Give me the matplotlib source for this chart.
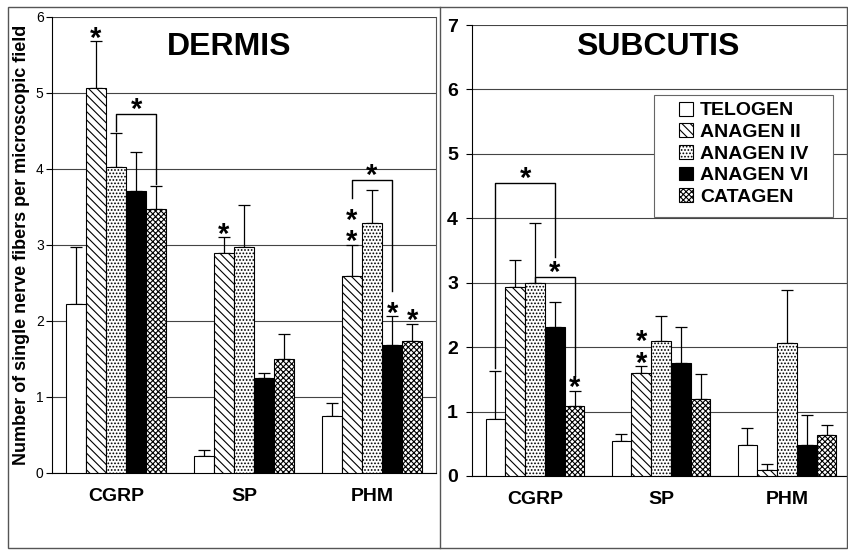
import matplotlib
matplotlib.use("Agg")
import matplotlib.pyplot as plt
from matplotlib.patches import Patch, Rectangle
from matplotlib.lines import Line2D
import numpy as np

plt.rcParams['font.family'] = ['Liberation Sans', 'DejaVu Sans']
plt.rcParams['hatch.linewidth'] = 0.8

# данные
categories = ['CGRP', 'SP', 'PHM']
phases = ['TELOGEN', 'ANAGEN II', 'ANAGEN IV', 'ANAGEN VI', 'CATAGEN']

# DERMIS: средние значения и верхняя ошибка (по фазам, внутри - CGRP, SP, PHM)
dermis_mean = [
    [2.22, 0.23, 0.75],
    [5.07, 2.89, 2.59],
    [4.03, 2.97, 3.29],
    [3.71, 1.25, 1.69],
    [3.48, 1.50, 1.74],
]
dermis_err = [
    [0.76, 0.07, 0.17],
    [0.61, 0.21, 0.41],
    [0.45, 0.56, 0.43],
    [0.52, 0.06, 0.37],
    [0.30, 0.33, 0.22],
]

# SUBCUTIS
subcutis_mean = [
    [0.88, 0.55, 0.48],
    [2.93, 1.60, 0.10],
    [2.99, 2.09, 2.07],
    [2.32, 1.75, 0.48],
    [1.08, 1.19, 0.63],
]
subcutis_err = [
    [0.75, 0.10, 0.26],
    [0.42, 0.10, 0.08],
    [0.93, 0.39, 0.82],
    [0.38, 0.56, 0.46],
    [0.24, 0.40, 0.16],
]

# звездочки: (категория, фаза, количество)
dermis_stars = [(0, 1, 1), (1, 1, 1), (2, 1, 2), (2, 3, 1), (2, 4, 1)]
subcutis_stars = [(0, 4, 1), (1, 1, 2)]
# скобки: (категория, фаза слева, фаза справа, высота, низ левой ноги, низ правой ноги)
dermis_brackets = [(0, 2, 4, 4.72, 4.50, 3.80), (2, 1, 3, 3.85, 3.62, 2.40)]
subcutis_brackets = [(0, 0, 3, 4.55, 1.68, 3.40), (0, 2, 4, 3.09, 3.00, 1.55)]

fills = ['white', 'white', 'white', 'black', 'white']
hatches = [None, '\\\\\\\\', '.....', None, 'xxxxxx']

bar_w = 0.157


def star(ax, x, y, n=1):
    ax.annotate('\n'.join(['*'] * n), (x, y), xytext=(0, -16.5), textcoords='offset points',
                ha='center', va='bottom', fontsize=21, fontweight='bold',
                linespacing=0.72, zorder=5)


def draw_panel(ax, means, errs, ymax, stars, brackets, title, title_x, title_y):
    x = np.arange(len(categories))
    for i in range(len(phases)):
        pos = x + (i - 2) * bar_w
        ax.bar(pos, means[i], bar_w, color=fills[i], hatch=hatches[i],
               edgecolor='black', linewidth=0.8, zorder=3, label=phases[i])
        ax.errorbar(pos, means[i], yerr=[np.zeros(3), errs[i]], fmt='none',
                    ecolor='black', elinewidth=0.9, capsize=4, capthick=0.9, zorder=2)

    step = 0.17 * ymax / 6
    for c, p, n in stars:
        top = means[p][c] + errs[p][c]
        star(ax, x[c] + (p - 2) * bar_w, top + step * 0.9, n)

    for c, p1, p2, h, b1, b2 in brackets:
        x1 = x[c] + (p1 - 2) * bar_w
        x2 = x[c] + (p2 - 2) * bar_w
        ax.plot([x1, x1, x2, x2], [b1, h, h, b2], color='black', lw=1.0, zorder=4)
        star(ax, (x1 + x2) / 2, h + step * 1.0)

    ax.set_xlim(-0.5, 2.5)
    ax.set_ylim(0, ymax)
    ax.set_yticks(range(ymax + 1))
    ax.yaxis.grid(True, color='#444444', lw=0.8)
    ax.set_axisbelow(True)
    ax.set_xticks(x)
    ax.set_xticklabels(categories, fontsize=14, fontweight='bold')
    ax.tick_params(axis='x', length=0, pad=11)
    ax.spines['top'].set_visible(False)
    ax.spines['left'].set_linewidth(0.8)
    ax.spines['bottom'].set_linewidth(0.8)
    ax.text(title_x, title_y, title, transform=ax.transAxes, ha='center', va='center',
            fontsize=23, fontweight='bold')


fig = plt.figure(figsize=(8.48, 5.5), dpi=100)

ax1 = fig.add_axes([52 / 848, 1 - 473 / 550, 384 / 848, 456 / 550])
draw_panel(ax1, dermis_mean, dermis_err, 6, dermis_stars, dermis_brackets, 'DERMIS', 0.46, 0.935)
ax1.spines['right'].set_linewidth(0.8)
ax1.spines['right'].set_color('#555555')
ax1.tick_params(axis='y', labelsize=10, length=4, pad=2)
ax1.set_ylabel('Number of single nerve fibers per microscopic field',
               fontsize=13, fontweight='bold', labelpad=4)

ax2 = fig.add_axes([472 / 848, 1 - 476 / 550, 378 / 848, 451 / 550])
draw_panel(ax2, subcutis_mean, subcutis_err, 7, subcutis_stars, subcutis_brackets, 'SUBCUTIS', 0.49, 0.952)
ax2.spines['right'].set_visible(False)
ax2.tick_params(axis='y', labelsize=14, length=4, pad=6)
for t in ax2.get_yticklabels():
    t.set_fontweight('bold')

handles = [Patch(facecolor=fills[i], hatch=hatches[i], edgecolor='black', linewidth=0.8)
           for i in range(len(phases))]
leg = ax2.legend(handles, phases, loc='upper left', bbox_to_anchor=(0.548, 0.83),
                 prop={'size': 14, 'weight': 'bold'}, handlelength=0.72, handleheight=0.72,
                 handletextpad=0.35, labelspacing=0.2, borderpad=0, borderaxespad=0,
                 frameon=False)
# рамка легенды
ax2.add_patch(Rectangle((0.481, 0.575), 0.474, 0.27, transform=ax2.transAxes,
                        fill=True, facecolor='white', edgecolor='#666666', lw=0.8, zorder=4.5))
leg.set_zorder(6)

# рамки панелей
fig.add_artist(Rectangle((8 / 848, 2 / 550), 0.999 - 8 / 848, 541 / 550, transform=fig.transFigure,
                         fill=False, edgecolor='#555555', lw=1))
fig.add_artist(Line2D([440 / 848, 440 / 848], [2 / 550, 543 / 550], transform=fig.transFigure,
                      color='#555555', lw=1))

fig.savefig('out.png', dpi=100)
